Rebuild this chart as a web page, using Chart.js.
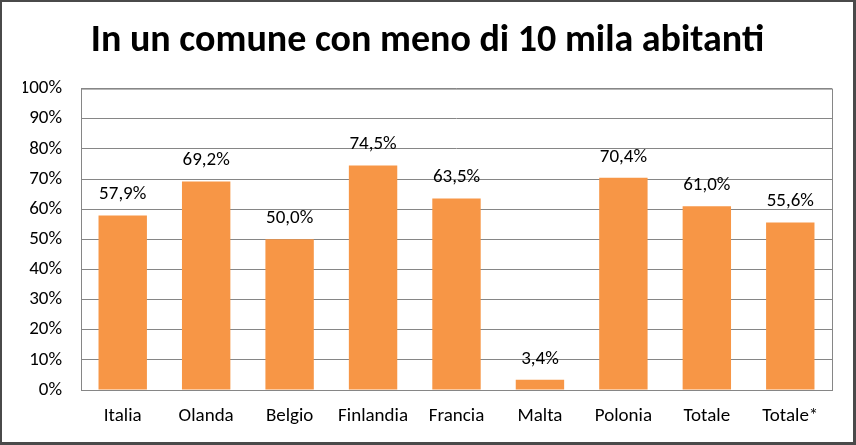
<!DOCTYPE html>
<html>
<head>
<meta charset="utf-8">
<script src="https://cdn.jsdelivr.net/npm/chart.js@4"></script>
<style>
  html, body { margin: 0; padding: 0; background: #fff; }
  #box {
    width: 856px; height: 445px; box-sizing: border-box;
    border-style: solid; border-color: #4a4a4a;
    border-width: 2px 3px 3px 2px;
  }
  canvas { display: block; }
</style>
</head>
<body>
<div id="box"><canvas id="grafico" width="851" height="440"></canvas></div>
<script>
const paesi = ['Italia', 'Olanda', 'Belgio', 'Finlandia', 'Francia', 'Malta', 'Polonia', 'Totale', 'Totale*'];
const valori = [57.9, 69.2, 50.0, 74.5, 63.5, 3.4, 70.4, 61.0, 55.6];
const titolo = 'In un comune con meno di 10 mila abitanti';
const arancio = '#F79646';

const fontBase = "Carlito, Lato, 'Open Sans', sans-serif";

function percentuale(v) {
  return v.toFixed(1).replace('.', ',') + '%';
}

// etichette sopra le barre
const etichette = {
  id: 'etichette',
  afterDatasetsDraw(chart) {
    const ctx = chart.ctx;
    const meta = chart.getDatasetMeta(0);
    ctx.save();
    ctx.font = '19px ' + fontBase;
    ctx.fillStyle = '#000';
    ctx.textAlign = 'center';
    ctx.textBaseline = 'middle';
    meta.data.forEach((bar, i) => {
      ctx.fillText(percentuale(valori[i]), bar.x, bar.y - 21);
    });
    ctx.restore();
  }
};

// bordo dell'area del grafico
const bordo = {
  id: 'bordo',
  beforeDatasetsDraw(chart) {
    const a = chart.chartArea;
    const ctx = chart.ctx;
    ctx.save();
    ctx.strokeStyle = '#868686';
    ctx.lineWidth = 1;
    ctx.strokeRect(a.left + 0.5, a.top + 0.5, a.right - a.left, a.bottom - a.top);
    ctx.restore();
  }
};

new Chart(document.getElementById('grafico'), {
  type: 'bar',
  data: {
    labels: paesi,
    datasets: [{
      data: valori,
      backgroundColor: arancio,
      barPercentage: 0.58,
      categoryPercentage: 1
    }]
  },
  options: {
    responsive: false,
    animation: false,
    layout: { padding: { left: 21, right: 21, top: 0, bottom: 0 } },
    plugins: {
      legend: { display: false },
      tooltip: { enabled: false },
      title: {
        display: true,
        text: titolo,
        color: '#000',
        font: { family: fontBase, size: 38, weight: 'bold' },
        padding: { top: 17, bottom: 24 }
      }
    },
    scales: {
      y: {
        min: 0,
        max: 100,
        afterFit: s => { s.width = 58; },
        ticks: {
          stepSize: 10,
          color: '#000',
          font: { family: fontBase, size: 19 },
          padding: 19,
          callback: v => v + '%'
        },
        grid: { color: '#868686', drawTicks: false },
        border: { display: false }
      },
      x: {
        afterFit: s => { s.height = 52; },
        ticks: {
          color: '#000',
          font: { family: fontBase, size: 19 },
          padding: 15
        },
        grid: { display: false, drawTicks: false },
        border: { color: '#868686' }
      }
    }
  },
  plugins: [bordo, etichette]
});
</script>
</body>
</html>
